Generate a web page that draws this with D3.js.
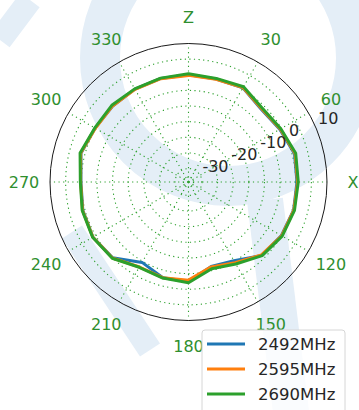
<!DOCTYPE html>
<html>
<head>
<meta charset="utf-8">
<script src="https://cdn.jsdelivr.net/npm/d3@7"></script>
<style>
  html, body { margin: 0; padding: 0; background: #fff; }
  svg { display: block; }
  text { font-family: "DejaVu Sans", sans-serif; }
</style>
</head>
<body>
<div id="chart"></div>
<script>
// angles in degrees, clockwise from Z (top)
var angles = [0, 15, 30, 45, 60, 75, 90, 105, 120, 135, 150, 165,
              180, 195, 210, 225, 240, 255, 270, 285, 300, 315, 330, 345];

// gain in dB per angle
var gain2492 = [0.0, -0.2, 0.5, -1.4, -0.6, 0.8, 0.4, 0.5, 0.0, -1.1, -5.2, -6.3,
                -2.5, -2.6, -4.6, 0.0, 1.0, 0.7, 0.1, 1.3, 0.2, 0.0, 0.0, 0.0];
var gain2595 = [-0.2, -0.3, 0.6, -1.2, -0.4, 1.0, 0.6, 0.6, 0.1, -1.3, -4.5, -6.2,
                -2.9, -2.6, -2.9, 0.1, 1.0, 0.8, 0.2, 1.4, 0.1, 0.1, -0.1, -0.1];
var gain2690 = [0.3, 0.0, 0.9, -0.9, -0.2, 1.2, 0.8, 0.8, 0.3, -1.0, -4.0, -5.6,
                -2.1, -2.5, -2.8, 0.2, 1.1, 0.9, 0.3, 1.6, 0.3, 0.4, 0.1, 0.1];

var seriesNames = ["2492MHz", "2595MHz", "2690MHz"];
var seriesColors = ["#1f77b4", "#ff7f0e", "#2ca02c"];

var ringTicks = [-30, -25, -20, -15, -10, -5, 0, 5];
var radialLabelTicks = [-30, -20, -10, 0, 10];
var angleTicks = [0, 30, 60, 90, 120, 150, 180, 210, 240, 270, 300, 330];
var angleLabels = ["Z", "30", "60", "X", "120", "150", "180", "210", "240", "270", "300", "330"];

function init() {
	var w = 359;
	var h = 410;
	var cx = 188.5;
	var cy = 182;
	var radius = 138.5;
	var gridGreen = "#2ca02c";
	var labelGreen = "#2f8f2f";

	var rScale = d3.scaleLinear()
		.domain([-34.3, 10])
		.range([0, radius]);

	var toRad = function(deg) { return deg * Math.PI / 180; };

	var svg = d3.select("#chart")
		.append("svg")
		.attr("width", w)
		.attr("height", h);

	// faint watermark in the background
	var wm = svg.append("g")
		.attr("fill", "none")
		.attr("stroke", "#e4eef7")
		.attr("stroke-linecap", "butt");
	wm.append("circle")
		.attr("cx", 228).attr("cy", 58).attr("r", 128)
		.attr("stroke-width", 40);
	wm.append("line")
		.attr("x1", 265).attr("y1", 200).attr("x2", 292).attr("y2", 420)
		.attr("stroke-width", 36);
	wm.append("line")
		.attr("x1", 72).attr("y1", 232).attr("x2", 150).attr("y2", 350)
		.attr("stroke-width", 24);
	wm.append("line")
		.attr("x1", 0).attr("y1", 40).attr("x2", 30).attr("y2", 0)
		.attr("stroke-width", 24);

	var g = svg.append("g")
		.attr("transform", "translate(" + cx + "," + cy + ")");

	// rings
	g.selectAll("circle.ring")
		.data(ringTicks)
		.enter()
		.append("circle")
		.attr("class", "ring")
		.attr("r", function(d) { return rScale(d); })
		.attr("fill", "none")
		.attr("stroke", gridGreen)
		.attr("stroke-width", 1.1)
		.attr("stroke-dasharray", "1.2,3.4");

	g.append("circle")
		.attr("r", 5)
		.attr("fill", "none")
		.attr("stroke", gridGreen)
		.attr("stroke-width", 1.1)
		.attr("stroke-dasharray", "1.2,2.4");

	// spokes
	g.selectAll("line.spoke")
		.data(angleTicks)
		.enter()
		.append("line")
		.attr("class", "spoke")
		.attr("x1", 0)
		.attr("y1", 0)
		.attr("x2", function(d) { return radius * Math.sin(toRad(d)); })
		.attr("y2", function(d) { return -radius * Math.cos(toRad(d)); })
		.attr("stroke", gridGreen)
		.attr("stroke-width", 1.1)
		.attr("stroke-dasharray", "1.2,3.4");

	// outer boundary
	g.append("circle")
		.attr("r", rScale(10))
		.attr("fill", "none")
		.attr("stroke", "#1a1a1a")
		.attr("stroke-width", 1);

	// series
	var allSeries = [gain2492, gain2595, gain2690];
	var line = d3.lineRadial()
		.angle(function(d, i) { return toRad(angles[i]); })
		.radius(function(d) { return rScale(d); })
		.curve(d3.curveLinearClosed);

	g.selectAll("path.series")
		.data(allSeries)
		.enter()
		.append("path")
		.attr("class", "series")
		.attr("d", function(d) { return line(d); })
		.attr("fill", "none")
		.attr("stroke", function(d, i) { return seriesColors[i]; })
		.attr("stroke-width", 3)
		.attr("stroke-linejoin", "round");

	// radial tick labels
	var rlabelAngle = toRad(67.5);
	g.selectAll("text.rlabel")
		.data(radialLabelTicks)
		.enter()
		.append("text")
		.attr("class", "rlabel")
		.attr("x", function(d) { return rScale(d) * Math.sin(rlabelAngle) + 1.5; })
		.attr("y", function(d) { return -rScale(d) * Math.cos(rlabelAngle) - 10.5; })
		.attr("dominant-baseline", "central")
		.attr("text-anchor", "start")
		.attr("font-size", 16)
		.attr("fill", "#262626")
		.text(function(d) { return d; });

	// angle labels
	var labelR = radius + 26;
	g.selectAll("text.alabel")
		.data(angleTicks)
		.enter()
		.append("text")
		.attr("class", "alabel")
		.attr("x", function(d) { return labelR * Math.sin(toRad(d)); })
		.attr("y", function(d) { return -labelR * Math.cos(toRad(d)); })
		.attr("dominant-baseline", "central")
		.attr("text-anchor", "middle")
		.attr("font-size", 16)
		.attr("fill", labelGreen)
		.text(function(d, i) { return angleLabels[i]; });

	// legend
	var legend = svg.append("g")
		.attr("transform", "translate(202,330)");
	legend.append("rect")
		.attr("x", 0)
		.attr("y", 0)
		.attr("width", 143)
		.attr("height", 95)
		.attr("rx", 3)
		.attr("fill", "#fff")
		.attr("fill-opacity", 0.8)
		.attr("stroke", "#d6d6d6")
		.attr("stroke-width", 1);

	var items = legend.selectAll("g.item")
		.data(seriesNames)
		.enter()
		.append("g")
		.attr("class", "item")
		.attr("transform", function(d, i) { return "translate(0," + (14 + i * 25) + ")"; });
	items.append("line")
		.attr("x1", 5)
		.attr("x2", 43)
		.attr("y1", 0)
		.attr("y2", 0)
		.attr("stroke", function(d, i) { return seriesColors[i]; })
		.attr("stroke-width", 3);
	items.append("text")
		.attr("x", 56)
		.attr("y", 0)
		.attr("dominant-baseline", "central")
		.attr("font-size", 16.5)
		.attr("fill", "#262626")
		.text(function(d) { return d; });
}

window.onload = init;
</script>
</body>
</html>
